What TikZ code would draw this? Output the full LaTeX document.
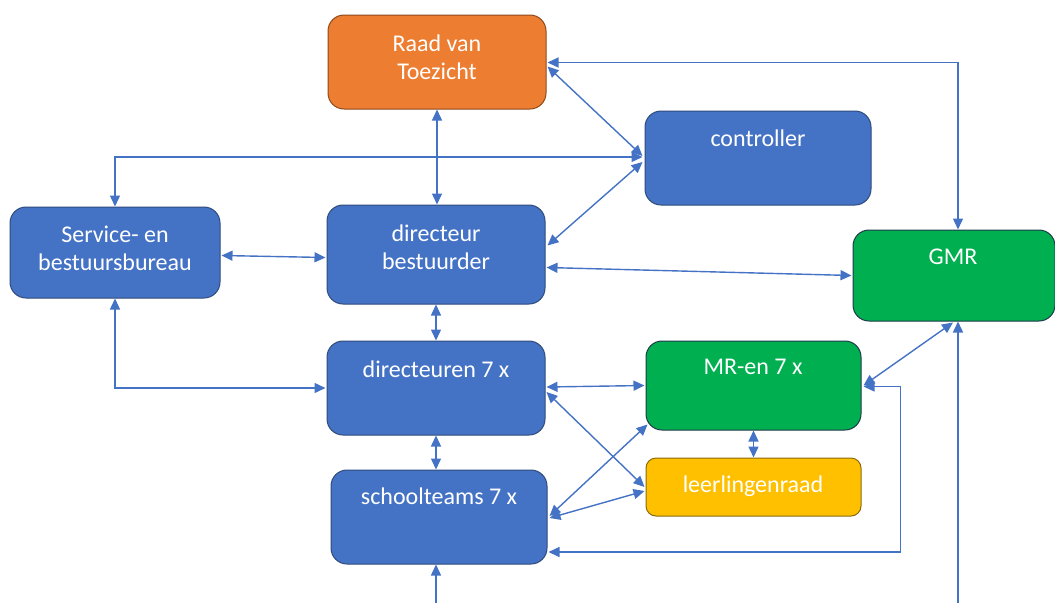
\documentclass[tikz,border=0pt]{standalone}
\usepackage{fontspec}
\setmainfont{Carlito}
\usetikzlibrary{arrows.meta,calc}
\definecolor{cblue}{HTML}{4472C4}
\definecolor{cblueb}{HTML}{2F4B7C}
\definecolor{corange}{HTML}{ED7D31}
\definecolor{corangeb}{HTML}{8C4A1C}
\definecolor{cgreen}{HTML}{00B050}
\definecolor{cgreenb}{HTML}{1E3A4A}
\definecolor{cyellow}{HTML}{FFC000}
\definecolor{cyellowb}{HTML}{8A6A10}
\definecolor{cline}{HTML}{4472C4}
\begin{document}
\begin{tikzpicture}[x=1pt,y=-1pt,
  box/.style={draw, line width=1pt, rounded corners=16pt, inner sep=0pt},
  bluebox/.style={box, fill=cblue, draw=cblueb},
  txt/.style={text=white, font=\fontsize{24}{28}\selectfont, align=center, inner sep=0pt},
  conn/.style={draw=cline, line width=1.4pt},
  dbl/.style={conn, {Triangle[length=11pt,width=10pt]}-{Triangle[length=11pt,width=10pt]}},
  sgl/.style={conn, -{Triangle[length=11pt,width=10pt]}}
]
\useasboundingbox (0,0) rectangle (1055,603);

% boxes
\node[box, fill=corange, draw=corangeb, minimum width=218pt, minimum height=94pt] (rvt) at (437,62) {};
\node[bluebox, minimum width=226pt, minimum height=94pt] (ctrl) at (758,158) {};
\node[bluebox, minimum width=210pt, minimum height=91pt] (sb) at (115,252.5) {};
\node[bluebox, minimum width=218pt, minimum height=99pt] (db) at (436,254.5) {};
\node[box, fill=cgreen, draw=cgreenb, minimum width=202pt, minimum height=91pt] (gmr) at (954,275.5) {};
\node[bluebox, minimum width=218pt, minimum height=94pt] (dirs) at (436,388) {};
\node[box, fill=cgreen, draw=cgreenb, minimum width=215pt, minimum height=89pt] (mr) at (753.5,385.5) {};
\node[box, fill=cyellow, draw=cyellowb, minimum width=215pt, minimum height=58pt, rounded corners=10pt] (ll) at (753.5,487) {};
\node[bluebox, minimum width=216pt, minimum height=94pt] (st) at (439,517) {};

% texts
\node[txt] (rvtT) at (437,60) {\strut Raad van\\\strut Toezicht};
\node[txt] (ctrlT) at (758,141) {\strut controller};
\node[txt] (sbT) at (115,251) {\strut Service- en\\\strut bestuursbureau};
\node[txt] (dbT) at (436,250) {\strut directeur\\\strut bestuurder};
\node[txt] (gmrT) at (953,259) {\strut GMR};
\node[txt] (dirsT) at (436,372) {\strut directeuren 7 x};
\node[txt] (mrT) at (753,369) {\strut MR-en 7 x};
\node[txt] (llT) at (753,487) {\strut leerlingenraad};
\node[txt] (stT) at (439,499) {\strut schoolteams 7 x};

% connectors
\draw[dbl] (rvt.south) -- (rvt.south |- db.north);
\draw[dbl] ($(rvt.north east)+(1,48)$) -| ($(gmr.north)+(4,0)$);
\draw[dbl] ($(rvt.north east)+(1,52)$) -- ($(ctrl.west)+(-2,-2)$);
\draw[dbl] ($(ctrl.west)+(-2,-1)$) -| (sb.north);
\draw[dbl] ($(ctrl.west)+(-2,4)$) -- ($(db.north east)+(2,41)$);
\draw[dbl] ($(db.east)+(1,13)$) -- ($(gmr.west)+(-1,0)$);
\draw[dbl] ($(sb.east)+(1,3)$) -- ($(db.west)+(-1,3)$);
\draw[dbl] (sb.south) |- ($(dirs.west)+(-1,0)$);
\draw[dbl] (db.south) -- (dirs.north);
\draw[dbl] ($(dirs.east)+(1,-1)$) -- ($(mr.west)+(-1,0)$);
\draw[dbl] ($(dirs.east)+(1,4)$) -- ($(ll.west)+(-1,0)$);
\draw[dbl] (dirs.south) -- (dirs.south |- st.north);
\draw[dbl] ($(st.east)+(2,-1)$) -- ($(mr.south west)+(2,-6)$);
\draw[dbl] ($(st.east)+(2,1)$) -- ($(ll.west)+(-1,4)$);
\draw[dbl] (mr.south) -- (ll.north);
\draw[dbl] ($(gmr.south)+(-1,1)$) -- ($(mr.east)+(2,0)$);
\draw[dbl] ($(mr.east)+(2,1)$) -- ++(37,0) |- ($(st.east)+(1,35)$);
\coordinate (b1) at (436,603);
\coordinate (b2) at (958,603);
\draw[sgl] (b1) -- (b1 |- st.south);
\draw[sgl] (b2) -- (b2 |- gmr.south);
\end{tikzpicture}
\end{document}
